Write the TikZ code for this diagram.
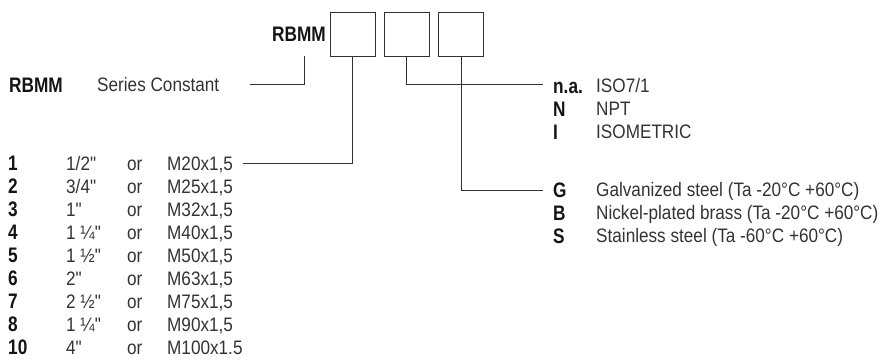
\documentclass[tikz,border=0pt]{standalone}
\usepackage{fontspec}
\setmainfont{Liberation Sans}[FakeStretch=0.88, Ligatures=TeXOff, BoldFeatures={FakeStretch=0.82}]
\begin{document}
\begin{tikzpicture}[x=1pt,y=-1pt]
\tikzset{
  txt/.style={anchor=base west, inner sep=0pt, text=black!80, font=\fontsize{19.5}{21}\selectfont},
  key/.style={anchor=base west, inner sep=0pt, text=black!92, font=\fontsize{21}{23}\selectfont\bfseries},
  codebox/.style={draw=black!80, line width=0.9pt, minimum width=45pt, minimum height=44pt, inner sep=0pt},
  lead/.style={draw=black!80, line width=0.8pt}
}
\useasboundingbox (0,0) rectangle (892,363);

% header
\node[key, anchor=base east] (title) at (326,42) {RBMM};
\node[codebox] (b1) at (352.5,34) {};
\node[codebox] (b2) at (406.5,34) {};
\node[codebox] (b3) at (461,34) {};

% series constant
\node[key] (sk) at (9,92.5) {RBMM};
\node[txt] (st) at (97,92) {Series Constant};

% size rows
\foreach \k/\sz/\m [count=\i from 0] in {
  1/{1/2"}/{M20x1,5},
  2/{3/4"}/{M25x1,5},
  3/{1"}/{M32x1,5},
  4/{1 ¼"}/{M40x1,5},
  5/{1 ½"}/{M50x1,5},
  6/{2"}/{M63x1,5},
  7/{2 ½"}/{M75x1,5},
  8/{1 ¼"}/{M90x1,5},
  10/{4"}/{M100x1.5}}{
  \pgfmathsetmacro{\yy}{170.5+23*\i}
  \node[key] (d\i) at (8,\yy+0.5) {\k};
  \node[txt] (z\i) at (66,\yy) {\sz};
  \node[txt] (o\i) at (127,\yy) {or};
  \node[txt] (m\i) at (167,\yy) {\m};
}

% thread rows
\node[key] (tna) at (553,93.5) {n.a.};
\node[txt] (tnat) at (596,93) {ISO7/1};
\node[key] (tn) at (553,116.5) {N};
\node[txt] (tnt) at (596,116) {NPT};
\node[key] (ti) at (553,139.5) {I};
\node[txt] (tit) at (596,139) {ISOMETRIC};

% material rows
\node[key] (mg) at (553,197.5) {G};
\node[txt] (mgt) at (596,197) {Galvanized steel (Ta -20°C +60°C)};
\node[key] (mb) at (553,220.5) {B};
\node[txt] (mbt) at (596,220) {Nickel-plated brass (Ta -20°C +60°C)};
\node[key] (ms) at (553,243.5) {S};
\node[txt] (mst) at (596,243) {Stainless steel (Ta -60°C +60°C)};

% leader lines
\coordinate (s0) at (304,56);
\coordinate (s1) at (250,84);
\draw[lead] (s0) |- (s1);
\coordinate (e1) at (243,163);
\draw[lead] (b1.south) |- (e1);
\coordinate (e2) at (543,84);
\draw[lead] (b2.south) |- (e2);
\coordinate (e3) at (543,190);
\draw[lead] (b3.south) |- (e3);
\end{tikzpicture}
\end{document}
